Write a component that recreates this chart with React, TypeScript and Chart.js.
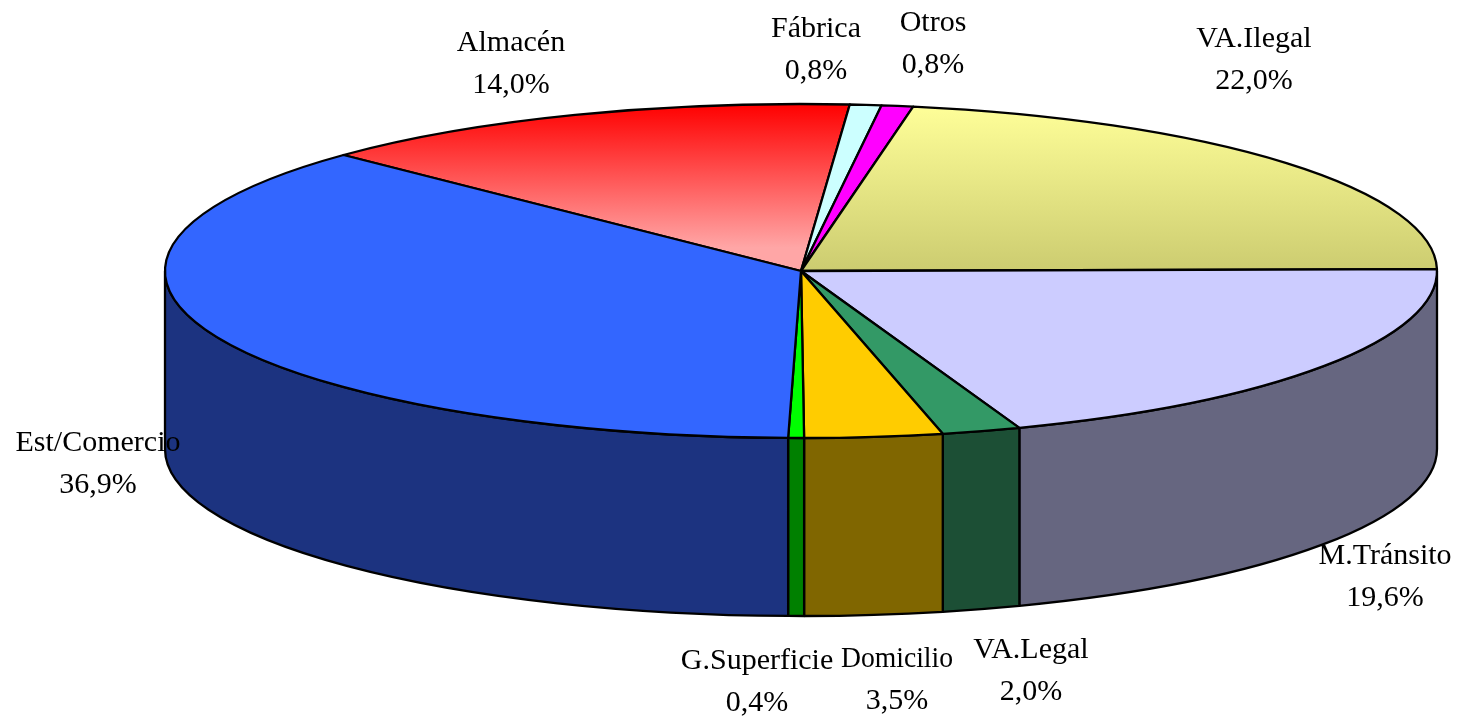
import React, { useEffect, useRef } from "react";
import { Chart, registerables } from "chart.js";

Chart.register(...registerables);

// Data, clockwise from the top-left edge of "Almacén"
const categories = ["Almacén", "Fábrica", "Otros", "VA.Ilegal", "M.Tránsito", "VA.Legal", "Domicilio", "G.Superficie", "Est/Comercio"];
const shares = [14.0, 0.8, 0.8, 22.0, 19.6, 2.0, 3.5, 0.4, 36.9];

// Styles
const topColors = ["#FF0000", "#CCFFFF", "#FF00FF", "#FFFF99", "#CCCCFF", "#339966", "#FFCC00", "#00FF00", "#3366FF"];
const wallColors = ["#800000", "#668080", "#800080", "#808050", "#666680", "#1C4F35", "#806600", "#008000", "#1C3380"];
const gradientEnds: (string | null)[] = ["#FFA6A6", null, null, "#CCCC70", null, null, null, null, null];
const gradientSpans = [0.86, 1, 1, 1, 1, 1, 1, 1, 1];

// Layout
const labelCenters = [
  [511, 43], [816, 29], [933, 23], [1254, 39], [1385, 556], [1031, 650], [897, 659], [757, 661], [98, 443],
];
const labelMaxWidths = [999, 999, 999, 999, 999, 999, 112, 999, 999];
const LINE_GAP = 42;
const PIE = { cx: 801, cy: 271, rx: 636, ry: 167, depth: 178, rotation: -46 };

const pie3d = {
  id: "pie3d",
  beforeDatasetsDraw(chart: any) {
    const ctx: CanvasRenderingContext2D = chart.ctx;
    const arcs = chart.getDatasetMeta(0).data;
    const { cx, cy, rx, ry, depth } = PIE;
    ctx.save();
    ctx.lineWidth = 2.3;
    ctx.strokeStyle = "#000";
    ctx.lineJoin = "round";

    // Outer wall: only the part of each slice that faces the viewer (0..PI)
    arcs.forEach((arc: any, i: number) => {
      const { startAngle, endAngle } = arc.getProps(["startAngle", "endAngle"], true);
      for (const shift of [0, -2 * Math.PI]) {
        const a = Math.max(startAngle + shift, 0);
        const b = Math.min(endAngle + shift, Math.PI);
        if (b <= a) continue;
        ctx.beginPath();
        ctx.ellipse(cx, cy, rx, ry, 0, a, b);
        ctx.lineTo(cx + rx * Math.cos(b), cy + ry * Math.sin(b) + depth);
        ctx.ellipse(cx, cy + depth, rx, ry, 0, b, a, true);
        ctx.closePath();
        ctx.fillStyle = wallColors[i];
        ctx.fill();
        ctx.stroke();
      }
    });

    // Top face
    arcs.forEach((arc: any, i: number) => {
      const { startAngle, endAngle } = arc.getProps(["startAngle", "endAngle"], true);
      ctx.beginPath();
      ctx.moveTo(cx, cy);
      ctx.ellipse(cx, cy, rx, ry, 0, startAngle, endAngle);
      ctx.closePath();
      const end = gradientEnds[i];
      if (end) {
        const g = ctx.createLinearGradient(0, cy - ry, 0, cy - ry + ry * gradientSpans[i]);
        g.addColorStop(0, topColors[i]);
        g.addColorStop(1, end);
        ctx.fillStyle = g;
      } else {
        ctx.fillStyle = topColors[i];
      }
      ctx.fill();
      ctx.stroke();
    });
    ctx.restore();
    return false;
  },
  afterDraw(chart: any) {
    const ctx: CanvasRenderingContext2D = chart.ctx;
    ctx.save();
    ctx.font = '30px "Liberation Serif"';
    ctx.fillStyle = "#000";
    ctx.textAlign = "center";
    ctx.textBaseline = "middle";
    categories.forEach((name, i) => {
      const [x, y] = labelCenters[i];
      ctx.fillText(name, x, y, labelMaxWidths[i]);
      ctx.fillText(shares[i].toFixed(1).replace(".", ",") + "%", x, y + LINE_GAP);
    });
    ctx.restore();
  },
};

export default function App() {
  const ref = useRef<HTMLCanvasElement>(null);
  useEffect(() => {
    const chart = new Chart(ref.current!, {
      type: "pie",
      data: {
        labels: categories,
        datasets: [{ data: shares, backgroundColor: topColors }],
      },
      options: {
        responsive: false,
        animation: false,
        rotation: PIE.rotation,
        layout: { padding: 0 },
        plugins: { legend: { display: false }, tooltip: { enabled: false } },
      },
      plugins: [pie3d],
    } as any);
    return () => chart.destroy();
  }, []);
  return (
    <canvas
      ref={ref}
      width={1458}
      height={718}
      style={{ position: "absolute", left: 0, top: 0, display: "block", background: "#fff" }}
    />
  );
}
